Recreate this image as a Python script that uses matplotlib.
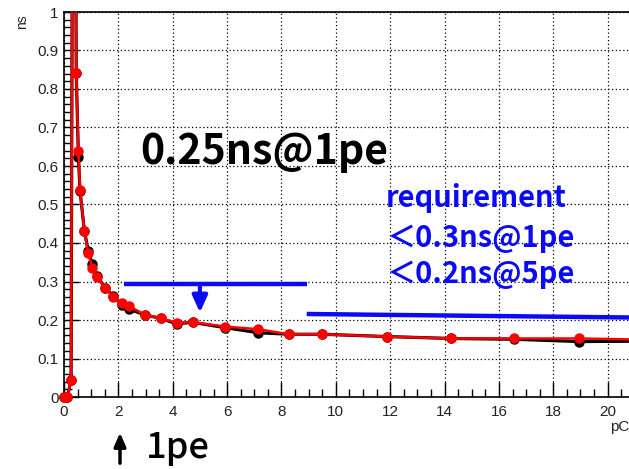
import numpy as np
import matplotlib
matplotlib.use("Agg")
import matplotlib.pyplot as plt
from matplotlib.ticker import MultipleLocator

# timing resolution (ns) vs charge (pC)
charge_red = [0.0, 0.12, 0.26, 0.36, 0.45, 0.53, 0.59, 0.75, 0.89, 1.04, 1.2, 1.51, 1.81,
              2.12, 2.4, 2.99, 3.57, 4.14, 4.73, 5.94, 7.14, 8.28, 9.49, 11.89, 14.23,
              16.56, 18.95, 21.3]
sigma_red = [0.0, 0.0, 0.044, 2.5, 0.842, 0.64, 0.538, 0.432, 0.373, 0.336, 0.3125, 0.284,
             0.26, 0.243, 0.236, 0.213, 0.204, 0.193, 0.194, 0.183, 0.176, 0.163, 0.163,
             0.157, 0.152, 0.152, 0.152, 0.149]

charge_blk = [0.0, 0.12, 0.26, 0.36, 0.45, 0.53, 0.59, 0.75, 0.89, 1.04, 1.2, 1.51, 1.81,
              2.12, 2.4, 2.99, 3.57, 4.14, 4.73, 5.94, 7.14, 8.28, 9.49, 11.89, 14.23,
              16.56, 18.95, 21.3]
sigma_blk = [0.0, 0.0, 0.044, 2.5, 0.842, 0.623, 0.535, 0.432, 0.38, 0.345, 0.315, 0.284,
             0.262, 0.24, 0.228, 0.213, 0.204, 0.19, 0.194, 0.18, 0.167, 0.163, 0.163,
             0.157, 0.152, 0.15, 0.144, 0.145]

# requirement lines
req1_x = [2.2, 8.93]
req1_y = [0.2935, 0.2935]
req5_x = [8.93, 22.0]
req5_y = [0.2156, 0.2056]

fig = plt.figure(figsize=(6.29, 4.69), dpi=100)
ax = fig.add_axes([64/629, 72/469, 598/629, 385/469])


def draw_series(x, y, color, lw, z):
    x = np.array(x)
    y = np.array(y)
    ax.plot(x, y, color=color, lw=lw, zorder=z)
    inside = (y <= 1) & (x <= 22)
    ax.plot(x[inside], y[inside], ls="none", marker="o", ms=6.5, color=color,
            zorder=z, clip_on=False)


draw_series(charge_blk, sigma_blk, "black", 2.3, 3)
draw_series(charge_red, sigma_red, "#ff0000", 1.8, 4)

ax.set_xlim(0, 22)
ax.set_ylim(0, 1)
ax.xaxis.set_major_locator(MultipleLocator(2))
ax.xaxis.set_minor_locator(MultipleLocator(0.5))
ax.yaxis.set_major_locator(MultipleLocator(0.1))
ax.yaxis.set_minor_locator(MultipleLocator(0.02))
ax.grid(True, which="major", color="black", ls=(0, (1, 2)), lw=0.9)
ax.tick_params(which="both", direction="in", labelsize=11, labelcolor="#222222",
               width=1.0)
ax.tick_params(which="major", length=11)
ax.tick_params(which="minor", length=6)
ax.tick_params(axis="x", pad=6)
ax.tick_params(axis="y", pad=4)
ax.set_yticks(np.arange(0, 1.01, 0.1))
ax.set_yticklabels(["0", "0.1", "0.2", "0.3", "0.4", "0.5", "0.6", "0.7", "0.8", "0.9", "1"])
ax.set_xticks(np.arange(0, 21, 2))
for s in ax.spines.values():
    s.set_linewidth(1.2)
ax.spines["right"].set_visible(False)

for lbl in ax.get_xticklabels() + ax.get_yticklabels():
    lbl.set_family("Liberation Sans")

blue = "#0a0af5"
ax.plot(req1_x, req1_y, color=blue, lw=3.2, solid_capstyle="butt", zorder=5)
ax.plot(req5_x, req5_y, color=blue, lw=3.2, solid_capstyle="butt", zorder=5)
ax.annotate("", xy=(5.0, 0.212), xytext=(5.0, 0.2935),
            arrowprops=dict(arrowstyle="-|>,head_length=1.0,head_width=0.45",
                            color=blue, lw=3), zorder=5)

jp = ["Noto Sans CJK JP", "DejaVu Sans"]
fig.text(140/629, 1 - 152/469, "0.25ns@1pe", fontsize=29.5, fontweight="bold",
         family=jp, va="center", ha="left")
fig.text(386/629, 1 - 198/469, "requirement", fontsize=21, fontweight="bold",
         family=jp, color=blue, va="center", ha="left")
fig.text(386/629, 1 - 238/469, "＜0.3ns@1pe", fontsize=21, fontweight="bold",
         family=jp, color=blue, va="center", ha="left")
fig.text(386/629, 1 - 274/469, "＜0.2ns@5pe", fontsize=21, fontweight="bold",
         family=jp, color=blue, va="center", ha="left")

fig.text(146/629, 1 - 448/469, "1pe", fontsize=26, fontweight="medium",
         family=jp, va="center", ha="left")
ax.annotate("", xy=(120, 469 - 430), xytext=(120, 469 - 466),
            xycoords="figure pixels", textcoords="figure pixels",
            arrowprops=dict(arrowstyle="-|>,head_length=0.8,head_width=0.35",
                            color="black", lw=2.5))

fig.text(22/629, 1 - 22/469, "ns", fontsize=10, rotation=90, family="Liberation Sans",
         color="#222222", va="center", ha="center")
fig.text(610/629, 1 - 427/469, "pC", fontsize=11, family="Liberation Sans",
         color="#222222", va="center", ha="left")

fig.savefig("out.png", dpi=100)
